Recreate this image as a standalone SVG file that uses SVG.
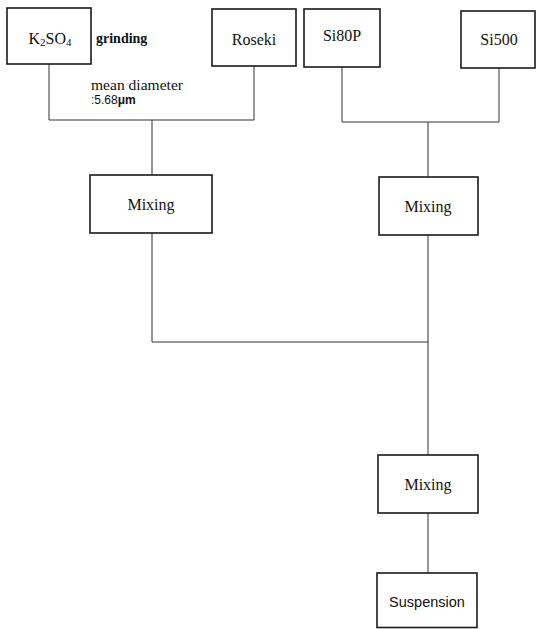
<svg xmlns="http://www.w3.org/2000/svg" width="536" height="629" viewBox="0 0 536 629">
<style>
.box{fill:#fff;stroke:#1a1a1a;stroke-width:1.6}
.lbl{font-family:"Liberation Serif","Times New Roman",serif;font-size:16px;fill:#111;text-anchor:middle}
.sans{font-family:"Liberation Sans",Arial,sans-serif;fill:#111}
#connectors path{fill:none;stroke:#333;stroke-width:1}
</style>
<rect width="536" height="629" fill="#fff"/>
<g id="connectors">
<path d="M49 64 V120 H254 V66"/>
<path d="M152 120 V175"/>
<path d="M342 67 V122 H499 V68"/>
<path d="M428 122 V177"/>
<path d="M152 233 V342 H428"/>
<path d="M428 235 V455"/>
<path d="M428 513 V573"/>
</g>
<g id="k2so4">
<rect class="box" x="7" y="8" width="84" height="56"/>
<text class="lbl" x="50" y="44">K<tspan font-size="11" dy="2">2</tspan><tspan dy="-2">SO</tspan><tspan font-size="11" dy="2">4</tspan></text>
</g>
<g id="roseki">
<rect class="box" x="212" y="9" width="84" height="57"/>
<text class="lbl" x="254" y="45">Roseki</text>
</g>
<g id="si80p">
<rect class="box" x="304" y="9" width="76" height="58"/>
<text class="lbl" x="342" y="41">Si80P</text>
</g>
<g id="si500">
<rect class="box" x="461" y="11" width="74" height="57"/>
<text class="lbl" x="499" y="45">Si500</text>
</g>
<g id="grinding-note">
<text x="96" y="43" font-family="'Liberation Serif', 'Times New Roman', serif" font-size="14" font-weight="bold" fill="#111">grinding</text>
<text x="91" y="90" font-family="'Liberation Serif', 'Times New Roman', serif" font-size="14" fill="#111" textLength="92" lengthAdjust="spacingAndGlyphs">mean diameter</text>
<text class="sans" x="91" y="104" font-size="12">:5.68<tspan font-weight="bold">μm</tspan></text>
</g>
<g id="mixing1">
<rect class="box" x="90" y="175" width="122" height="58"/>
<text class="lbl" x="151" y="210">Mixing</text>
</g>
<g id="mixing2">
<rect class="box" x="379" y="177" width="99" height="58"/>
<text class="lbl" x="428" y="212">Mixing</text>
</g>
<g id="mixing3">
<rect class="box" x="378" y="455" width="100" height="58"/>
<text class="lbl" x="428" y="490">Mixing</text>
</g>
<g id="suspension">
<rect class="box" x="377" y="573" width="100" height="54.5"/>
<text class="sans" x="427" y="607" font-size="14.5" text-anchor="middle">Suspension</text>
</g>
</svg>
